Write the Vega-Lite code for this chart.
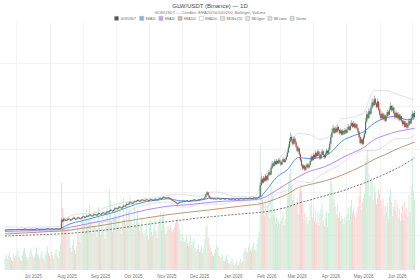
{
  "$schema": "https://vega.github.io/schema/vega-lite/v6.json",
  "width": 420,
  "height": 248,
  "autosize": {"type": "none"},
  "padding": {"top": 22, "left": 0, "right": 0, "bottom": 10},
  "background": "white",
  "title": {
    "text": "GLW/USDT (Binance) — 1D",
    "subtitle": "GLW/USDT — Candles: EMA20/50/100/200, Bollinger, Volume",
    "anchor": "middle",
    "frame": "group",
    "offset": 1,
    "fontSize": 6,
    "fontWeight": "normal",
    "color": "#444444",
    "subtitleFontSize": 4,
    "subtitleColor": "#777777",
    "subtitlePadding": 2,
    "font": "Liberation Sans",
    "subtitleFont": "Liberation Sans"
  },
  "datasets": {
    "candles": [
      {"d":"2025-06-21","o":5.52,"h":5.60,"l":5.49,"c":5.55,"v":12},
      {"d":"2025-06-22","o":5.55,"h":5.64,"l":5.53,"c":5.60,"v":15},
      {"d":"2025-06-23","o":5.60,"h":5.63,"l":5.53,"c":5.57,"v":11},
      {"d":"2025-06-24","o":5.57,"h":5.66,"l":5.55,"c":5.62,"v":14},
      {"d":"2025-06-25","o":5.62,"h":5.70,"l":5.60,"c":5.66,"v":18},
      {"d":"2025-06-26","o":5.66,"h":5.69,"l":5.58,"c":5.61,"v":13},
      {"d":"2025-06-27","o":5.61,"h":5.63,"l":5.54,"c":5.58,"v":10},
      {"d":"2025-06-28","o":5.58,"h":5.67,"l":5.56,"c":5.63,"v":9},
      {"d":"2025-06-29","o":5.63,"h":5.72,"l":5.61,"c":5.68,"v":16},
      {"d":"2025-06-30","o":5.68,"h":5.70,"l":5.60,"c":5.64,"v":12},
      {"d":"2025-07-01","o":5.64,"h":5.66,"l":5.56,"c":5.60,"v":14},
      {"d":"2025-07-02","o":5.60,"h":5.69,"l":5.58,"c":5.65,"v":17},
      {"d":"2025-07-03","o":5.65,"h":5.74,"l":5.63,"c":5.70,"v":20},
      {"d":"2025-07-04","o":5.70,"h":5.73,"l":5.64,"c":5.67,"v":13},
      {"d":"2025-07-05","o":5.67,"h":5.69,"l":5.59,"c":5.62,"v":11},
      {"d":"2025-07-06","o":5.62,"h":5.64,"l":5.55,"c":5.59,"v":9},
      {"d":"2025-07-07","o":5.59,"h":5.68,"l":5.57,"c":5.64,"v":15},
      {"d":"2025-07-08","o":5.64,"h":5.73,"l":5.62,"c":5.69,"v":19},
      {"d":"2025-07-09","o":5.69,"h":5.78,"l":5.67,"c":5.73,"v":22},
      {"d":"2025-07-10","o":5.73,"h":5.75,"l":5.65,"c":5.68,"v":16},
      {"d":"2025-07-11","o":5.68,"h":5.70,"l":5.60,"c":5.64,"v":13},
      {"d":"2025-07-12","o":5.64,"h":5.66,"l":5.56,"c":5.60,"v":10},
      {"d":"2025-07-13","o":5.60,"h":5.67,"l":5.57,"c":5.63,"v":12},
      {"d":"2025-07-14","o":5.63,"h":5.71,"l":5.61,"c":5.67,"v":18},
      {"d":"2025-07-15","o":5.67,"h":5.76,"l":5.65,"c":5.71,"v":21},
      {"d":"2025-07-16","o":5.71,"h":5.73,"l":5.63,"c":5.66,"v":15},
      {"d":"2025-07-17","o":5.66,"h":5.68,"l":5.58,"c":5.62,"v":12},
      {"d":"2025-07-18","o":5.62,"h":5.69,"l":5.60,"c":5.65,"v":14},
      {"d":"2025-07-19","o":5.65,"h":5.74,"l":5.63,"c":5.70,"v":17},
      {"d":"2025-07-20","o":5.70,"h":5.79,"l":5.68,"c":5.74,"v":23},
      {"d":"2025-07-21","o":5.74,"h":5.76,"l":5.66,"c":5.69,"v":16},
      {"d":"2025-07-22","o":5.69,"h":5.71,"l":5.61,"c":5.65,"v":13},
      {"d":"2025-07-23","o":5.65,"h":5.67,"l":5.57,"c":5.61,"v":11},
      {"d":"2025-07-24","o":5.61,"h":5.70,"l":5.59,"c":5.66,"v":15},
      {"d":"2025-07-25","o":5.66,"h":5.74,"l":5.64,"c":5.70,"v":19},
      {"d":"2025-07-26","o":5.70,"h":5.73,"l":5.64,"c":5.67,"v":12},
      {"d":"2025-07-27","o":5.67,"h":5.69,"l":5.59,"c":5.63,"v":10},
      {"d":"2025-07-28","o":5.63,"h":5.72,"l":5.61,"c":5.68,"v":16},
      {"d":"2025-07-29","o":5.68,"h":5.77,"l":5.66,"c":5.72,"v":20},
      {"d":"2025-07-30","o":5.72,"h":5.81,"l":5.70,"c":5.76,"v":24},
      {"d":"2025-07-31","o":5.76,"h":5.78,"l":5.68,"c":5.71,"v":17},
      {"d":"2025-08-01","o":5.71,"h":5.73,"l":5.63,"c":5.67,"v":14},
      {"d":"2025-08-02","o":5.67,"h":5.74,"l":5.65,"c":5.70,"v":12},
      {"d":"2025-08-03","o":5.70,"h":5.78,"l":5.68,"c":5.74,"v":18},
      {"d":"2025-08-04","o":5.74,"h":5.76,"l":5.66,"c":5.69,"v":15},
      {"d":"2025-08-05","o":5.69,"h":5.71,"l":5.62,"c":5.66,"v":11},
      {"d":"2025-08-06","o":5.66,"h":5.74,"l":5.64,"c":5.70,"v":16},
      {"d":"2025-08-07","o":5.70,"h":5.79,"l":5.68,"c":5.75,"v":21},
      {"d":"2025-08-08","o":5.75,"h":5.78,"l":5.69,"c":5.72,"v":14},
      {"d":"2025-08-09","o":5.72,"h":5.74,"l":5.65,"c":5.68,"v":12},
      {"d":"2025-08-10","o":5.68,"h":5.77,"l":5.66,"c":5.73,"v":19},
      {"d":"2025-08-11","o":5.73,"h":5.83,"l":5.71,"c":5.78,"v":26},
      {"d":"2025-08-12","o":5.78,"h":6.95,"l":5.76,"c":6.72,"v":87},
      {"d":"2025-08-13","o":6.72,"h":6.88,"l":6.48,"c":6.60,"v":62},
      {"d":"2025-08-14","o":6.60,"h":6.98,"l":6.55,"c":6.85,"v":55},
      {"d":"2025-08-15","o":6.85,"h":6.94,"l":6.70,"c":6.78,"v":41},
      {"d":"2025-08-16","o":6.78,"h":6.84,"l":6.58,"c":6.66,"v":38},
      {"d":"2025-08-17","o":6.66,"h":6.82,"l":6.60,"c":6.74,"v":30},
      {"d":"2025-08-18","o":6.74,"h":7.02,"l":6.70,"c":6.90,"v":48},
      {"d":"2025-08-19","o":6.90,"h":6.97,"l":6.75,"c":6.82,"v":35},
      {"d":"2025-08-20","o":6.82,"h":6.86,"l":6.62,"c":6.70,"v":22},
      {"d":"2025-08-21","o":6.70,"h":6.86,"l":6.66,"c":6.79,"v":18},
      {"d":"2025-08-22","o":6.79,"h":7.02,"l":6.75,"c":6.93,"v":25},
      {"d":"2025-08-23","o":6.93,"h":7.12,"l":6.88,"c":7.02,"v":31},
      {"d":"2025-08-24","o":7.02,"h":7.06,"l":6.82,"c":6.88,"v":20},
      {"d":"2025-08-25","o":6.88,"h":6.92,"l":6.72,"c":6.80,"v":16},
      {"d":"2025-08-26","o":6.80,"h":6.99,"l":6.76,"c":6.92,"v":24},
      {"d":"2025-08-27","o":6.92,"h":7.14,"l":6.88,"c":7.05,"v":44},
      {"d":"2025-08-28","o":7.05,"h":7.10,"l":6.90,"c":6.97,"v":36},
      {"d":"2025-08-29","o":6.97,"h":7.01,"l":6.80,"c":6.86,"v":28},
      {"d":"2025-08-30","o":6.86,"h":7.03,"l":6.82,"c":6.95,"v":40},
      {"d":"2025-08-31","o":6.95,"h":7.17,"l":6.91,"c":7.08,"v":52},
      {"d":"2025-09-01","o":7.08,"h":7.24,"l":7.02,"c":7.15,"v":58},
      {"d":"2025-09-02","o":7.15,"h":7.19,"l":6.95,"c":7.02,"v":47},
      {"d":"2025-09-03","o":7.02,"h":7.18,"l":6.97,"c":7.10,"v":39},
      {"d":"2025-09-04","o":7.10,"h":7.31,"l":7.06,"c":7.22,"v":61},
      {"d":"2025-09-05","o":7.22,"h":7.27,"l":7.08,"c":7.14,"v":44},
      {"d":"2025-09-06","o":7.14,"h":7.34,"l":7.10,"c":7.26,"v":50},
      {"d":"2025-09-07","o":7.26,"h":7.45,"l":7.21,"c":7.35,"v":66},
      {"d":"2025-09-08","o":7.35,"h":7.39,"l":7.17,"c":7.24,"v":52},
      {"d":"2025-09-09","o":7.24,"h":7.29,"l":7.10,"c":7.18,"v":37},
      {"d":"2025-09-10","o":7.18,"h":7.38,"l":7.14,"c":7.30,"v":45},
      {"d":"2025-09-11","o":7.30,"h":7.51,"l":7.26,"c":7.42,"v":59},
      {"d":"2025-09-12","o":7.42,"h":7.48,"l":7.29,"c":7.36,"v":42},
      {"d":"2025-09-13","o":7.36,"h":7.40,"l":7.21,"c":7.28,"v":33},
      {"d":"2025-09-14","o":7.28,"h":7.48,"l":7.24,"c":7.40,"v":41},
      {"d":"2025-09-15","o":7.40,"h":7.62,"l":7.36,"c":7.52,"v":63},
      {"d":"2025-09-16","o":7.52,"h":7.57,"l":7.38,"c":7.45,"v":48},
      {"d":"2025-09-17","o":7.45,"h":7.49,"l":7.30,"c":7.38,"v":35},
      {"d":"2025-09-18","o":7.38,"h":7.58,"l":7.34,"c":7.50,"v":46},
      {"d":"2025-09-19","o":7.50,"h":7.71,"l":7.46,"c":7.62,"v":57},
      {"d":"2025-09-20","o":7.62,"h":7.66,"l":7.48,"c":7.55,"v":40},
      {"d":"2025-09-21","o":7.55,"h":7.59,"l":7.40,"c":7.48,"v":31},
      {"d":"2025-09-22","o":7.48,"h":7.68,"l":7.44,"c":7.60,"v":43},
      {"d":"2025-09-23","o":7.60,"h":7.82,"l":7.56,"c":7.72,"v":62},
      {"d":"2025-09-24","o":7.72,"h":7.78,"l":7.58,"c":7.66,"v":45},
      {"d":"2025-09-25","o":7.66,"h":7.90,"l":7.62,"c":7.80,"v":81},
      {"d":"2025-09-26","o":7.80,"h":8.03,"l":7.75,"c":7.92,"v":70},
      {"d":"2025-09-27","o":7.92,"h":7.97,"l":7.77,"c":7.84,"v":49},
      {"d":"2025-09-28","o":7.84,"h":7.88,"l":7.68,"c":7.76,"v":38},
      {"d":"2025-09-29","o":7.76,"h":7.98,"l":7.72,"c":7.90,"v":53},
      {"d":"2025-09-30","o":7.90,"h":8.14,"l":7.86,"c":8.04,"v":64},
      {"d":"2025-10-01","o":8.04,"h":8.22,"l":7.98,"c":8.12,"v":55},
      {"d":"2025-10-02","o":8.12,"h":8.17,"l":7.93,"c":8.00,"v":44},
      {"d":"2025-10-03","o":8.00,"h":8.24,"l":7.95,"c":8.15,"v":50},
      {"d":"2025-10-04","o":8.15,"h":8.38,"l":8.10,"c":8.28,"v":67},
      {"d":"2025-10-05","o":8.28,"h":8.33,"l":8.13,"c":8.20,"v":42},
      {"d":"2025-10-06","o":8.20,"h":8.24,"l":8.02,"c":8.10,"v":36},
      {"d":"2025-10-07","o":8.10,"h":8.33,"l":8.06,"c":8.25,"v":48},
      {"d":"2025-10-08","o":8.25,"h":8.50,"l":8.21,"c":8.40,"v":72},
      {"d":"2025-10-09","o":8.40,"h":8.45,"l":8.25,"c":8.32,"v":51},
      {"d":"2025-10-10","o":8.32,"h":8.54,"l":8.28,"c":8.45,"v":45},
      {"d":"2025-10-11","o":8.45,"h":8.71,"l":8.41,"c":8.60,"v":68},
      {"d":"2025-10-12","o":8.60,"h":8.66,"l":8.45,"c":8.52,"v":47},
      {"d":"2025-10-13","o":8.52,"h":8.78,"l":8.48,"c":8.68,"v":58},
      {"d":"2025-10-14","o":8.68,"h":8.91,"l":8.63,"c":8.80,"v":74},
      {"d":"2025-10-15","o":8.80,"h":8.85,"l":8.65,"c":8.72,"v":50},
      {"d":"2025-10-16","o":8.72,"h":8.76,"l":8.54,"c":8.62,"v":41},
      {"d":"2025-10-17","o":8.62,"h":8.86,"l":8.58,"c":8.78,"v":46},
      {"d":"2025-10-18","o":8.78,"h":9.01,"l":8.73,"c":8.90,"v":63},
      {"d":"2025-10-19","o":8.90,"h":8.96,"l":8.77,"c":8.84,"v":44},
      {"d":"2025-10-20","o":8.84,"h":9.04,"l":8.80,"c":8.95,"v":49},
      {"d":"2025-10-21","o":8.95,"h":9.16,"l":8.90,"c":9.06,"v":61},
      {"d":"2025-10-22","o":9.06,"h":9.11,"l":8.91,"c":8.98,"v":47},
      {"d":"2025-10-23","o":8.98,"h":9.02,"l":8.82,"c":8.90,"v":39},
      {"d":"2025-10-24","o":8.90,"h":9.10,"l":8.86,"c":9.02,"v":45},
      {"d":"2025-10-25","o":9.02,"h":9.19,"l":8.97,"c":9.10,"v":52},
      {"d":"2025-10-26","o":9.10,"h":9.15,"l":8.97,"c":9.04,"v":37},
      {"d":"2025-10-27","o":9.04,"h":9.08,"l":8.89,"c":8.96,"v":33},
      {"d":"2025-10-28","o":8.96,"h":9.12,"l":8.92,"c":9.05,"v":40},
      {"d":"2025-10-29","o":9.05,"h":9.21,"l":9.00,"c":9.12,"v":48},
      {"d":"2025-10-30","o":9.12,"h":9.16,"l":8.99,"c":9.06,"v":35},
      {"d":"2025-10-31","o":9.06,"h":9.10,"l":8.91,"c":8.98,"v":31},
      {"d":"2025-11-01","o":8.98,"h":9.15,"l":8.94,"c":9.08,"v":42},
      {"d":"2025-11-02","o":9.08,"h":9.25,"l":9.03,"c":9.16,"v":50},
      {"d":"2025-11-03","o":9.16,"h":9.21,"l":9.03,"c":9.10,"v":38},
      {"d":"2025-11-04","o":9.10,"h":9.14,"l":8.95,"c":9.02,"v":34},
      {"d":"2025-11-05","o":9.02,"h":9.18,"l":8.98,"c":9.11,"v":41},
      {"d":"2025-11-06","o":9.11,"h":9.29,"l":9.06,"c":9.20,"v":53},
      {"d":"2025-11-07","o":9.20,"h":9.25,"l":9.07,"c":9.14,"v":39},
      {"d":"2025-11-08","o":9.14,"h":9.18,"l":8.99,"c":9.06,"v":32},
      {"d":"2025-11-09","o":9.06,"h":9.22,"l":9.02,"c":9.15,"v":44},
      {"d":"2025-11-10","o":9.15,"h":9.33,"l":9.10,"c":9.24,"v":51},
      {"d":"2025-11-11","o":9.24,"h":9.39,"l":9.19,"c":9.30,"v":58},
      {"d":"2025-11-12","o":9.30,"h":9.34,"l":9.15,"c":9.22,"v":40},
      {"d":"2025-11-13","o":9.22,"h":9.42,"l":9.18,"c":9.34,"v":55},
      {"d":"2025-11-14","o":9.34,"h":9.52,"l":9.29,"c":9.42,"v":58},
      {"d":"2025-11-15","o":9.42,"h":9.47,"l":9.28,"c":9.35,"v":43},
      {"d":"2025-11-16","o":9.35,"h":9.39,"l":9.19,"c":9.26,"v":36},
      {"d":"2025-11-17","o":9.26,"h":9.40,"l":9.22,"c":9.32,"v":39},
      {"d":"2025-11-18","o":9.32,"h":9.46,"l":9.28,"c":9.38,"v":44},
      {"d":"2025-11-19","o":9.38,"h":9.42,"l":9.21,"c":9.28,"v":41},
      {"d":"2025-11-20","o":9.28,"h":9.32,"l":9.11,"c":9.18,"v":45},
      {"d":"2025-11-21","o":9.18,"h":9.22,"l":9.03,"c":9.10,"v":42},
      {"d":"2025-11-22","o":9.10,"h":9.14,"l":8.95,"c":9.02,"v":38},
      {"d":"2025-11-23","o":9.02,"h":9.06,"l":8.87,"c":8.94,"v":40},
      {"d":"2025-11-24","o":8.94,"h":8.98,"l":8.79,"c":8.86,"v":43},
      {"d":"2025-11-25","o":8.86,"h":8.90,"l":8.70,"c":8.78,"v":47},
      {"d":"2025-11-26","o":8.78,"h":8.82,"l":8.62,"c":8.70,"v":50},
      {"d":"2025-11-27","o":8.70,"h":8.74,"l":8.52,"c":8.62,"v":52},
      {"d":"2025-11-28","o":8.62,"h":8.83,"l":8.58,"c":8.75,"v":46},
      {"d":"2025-11-29","o":8.75,"h":8.92,"l":8.70,"c":8.84,"v":40},
      {"d":"2025-11-30","o":8.84,"h":8.90,"l":8.74,"c":8.80,"v":29},
      {"d":"2025-12-01","o":8.80,"h":8.97,"l":8.76,"c":8.90,"v":36},
      {"d":"2025-12-02","o":8.90,"h":9.03,"l":8.85,"c":8.96,"v":33},
      {"d":"2025-12-03","o":8.96,"h":9.00,"l":8.82,"c":8.88,"v":28},
      {"d":"2025-12-04","o":8.88,"h":9.01,"l":8.84,"c":8.95,"v":30},
      {"d":"2025-12-05","o":8.95,"h":9.09,"l":8.91,"c":9.02,"v":35},
      {"d":"2025-12-06","o":9.02,"h":9.06,"l":8.88,"c":8.94,"v":27},
      {"d":"2025-12-07","o":8.94,"h":8.98,"l":8.82,"c":8.88,"v":24},
      {"d":"2025-12-08","o":8.88,"h":9.02,"l":8.84,"c":8.96,"v":29},
      {"d":"2025-12-09","o":8.96,"h":9.10,"l":8.92,"c":9.04,"v":34},
      {"d":"2025-12-10","o":9.04,"h":9.08,"l":8.93,"c":8.98,"v":25},
      {"d":"2025-12-11","o":8.98,"h":9.12,"l":8.94,"c":9.06,"v":28},
      {"d":"2025-12-12","o":9.06,"h":9.19,"l":9.02,"c":9.12,"v":32},
      {"d":"2025-12-13","o":9.12,"h":9.16,"l":9.00,"c":9.05,"v":22},
      {"d":"2025-12-14","o":9.05,"h":9.08,"l":8.93,"c":8.98,"v":19},
      {"d":"2025-12-15","o":8.98,"h":9.11,"l":8.95,"c":9.06,"v":21},
      {"d":"2025-12-16","o":9.06,"h":9.20,"l":9.02,"c":9.14,"v":26},
      {"d":"2025-12-17","o":9.14,"h":9.17,"l":9.03,"c":9.08,"v":18},
      {"d":"2025-12-18","o":9.08,"h":9.22,"l":9.05,"c":9.16,"v":20},
      {"d":"2025-12-19","o":9.16,"h":9.29,"l":9.12,"c":9.22,"v":24},
      {"d":"2025-12-20","o":9.22,"h":9.25,"l":9.10,"c":9.15,"v":17},
      {"d":"2025-12-21","o":9.15,"h":9.30,"l":9.12,"c":9.24,"v":22},
      {"d":"2025-12-22","o":9.24,"h":9.50,"l":9.20,"c":9.40,"v":31},
      {"d":"2025-12-23","o":9.40,"h":9.85,"l":9.36,"c":9.72,"v":42},
      {"d":"2025-12-24","o":9.72,"h":10.12,"l":9.66,"c":9.95,"v":45},
      {"d":"2025-12-25","o":9.95,"h":10.00,"l":9.52,"c":9.60,"v":33},
      {"d":"2025-12-26","o":9.60,"h":9.64,"l":9.30,"c":9.38,"v":26},
      {"d":"2025-12-27","o":9.38,"h":9.42,"l":9.19,"c":9.25,"v":22},
      {"d":"2025-12-28","o":9.25,"h":9.28,"l":9.12,"c":9.18,"v":18},
      {"d":"2025-12-29","o":9.18,"h":9.29,"l":9.14,"c":9.24,"v":15},
      {"d":"2025-12-30","o":9.24,"h":9.27,"l":9.11,"c":9.16,"v":14},
      {"d":"2025-12-31","o":9.16,"h":9.27,"l":9.13,"c":9.22,"v":17},
      {"d":"2026-01-01","o":9.22,"h":9.25,"l":9.11,"c":9.15,"v":21},
      {"d":"2026-01-02","o":9.15,"h":9.24,"l":9.12,"c":9.20,"v":26},
      {"d":"2026-01-03","o":9.20,"h":9.31,"l":9.17,"c":9.26,"v":23},
      {"d":"2026-01-04","o":9.26,"h":9.29,"l":9.14,"c":9.18,"v":14},
      {"d":"2026-01-05","o":9.18,"h":9.21,"l":9.08,"c":9.12,"v":11},
      {"d":"2026-01-06","o":9.12,"h":9.23,"l":9.09,"c":9.19,"v":13},
      {"d":"2026-01-07","o":9.19,"h":9.30,"l":9.16,"c":9.25,"v":16},
      {"d":"2026-01-08","o":9.25,"h":9.28,"l":9.16,"c":9.20,"v":9},
      {"d":"2026-01-09","o":9.20,"h":9.23,"l":9.10,"c":9.14,"v":8},
      {"d":"2026-01-10","o":9.14,"h":9.25,"l":9.11,"c":9.21,"v":12},
      {"d":"2026-01-11","o":9.21,"h":9.32,"l":9.18,"c":9.27,"v":15},
      {"d":"2026-01-12","o":9.27,"h":9.30,"l":9.18,"c":9.22,"v":10},
      {"d":"2026-01-13","o":9.22,"h":9.25,"l":9.12,"c":9.16,"v":7},
      {"d":"2026-01-14","o":9.16,"h":9.19,"l":9.06,"c":9.10,"v":6},
      {"d":"2026-01-15","o":9.10,"h":9.21,"l":9.07,"c":9.17,"v":9},
      {"d":"2026-01-16","o":9.17,"h":9.28,"l":9.14,"c":9.24,"v":12},
      {"d":"2026-01-17","o":9.24,"h":9.27,"l":9.15,"c":9.19,"v":7},
      {"d":"2026-01-18","o":9.19,"h":9.22,"l":9.09,"c":9.13,"v":5},
      {"d":"2026-01-19","o":9.13,"h":9.24,"l":9.10,"c":9.20,"v":6},
      {"d":"2026-01-20","o":9.20,"h":9.30,"l":9.17,"c":9.26,"v":9},
      {"d":"2026-01-21","o":9.26,"h":9.29,"l":9.17,"c":9.21,"v":4},
      {"d":"2026-01-22","o":9.21,"h":9.24,"l":9.11,"c":9.15,"v":5},
      {"d":"2026-01-23","o":9.15,"h":9.26,"l":9.12,"c":9.22,"v":8},
      {"d":"2026-01-24","o":9.22,"h":9.33,"l":9.19,"c":9.28,"v":11},
      {"d":"2026-01-25","o":9.28,"h":9.31,"l":9.19,"c":9.23,"v":7},
      {"d":"2026-01-26","o":9.23,"h":9.26,"l":9.13,"c":9.17,"v":9},
      {"d":"2026-01-27","o":9.17,"h":9.28,"l":9.14,"c":9.24,"v":18},
      {"d":"2026-01-28","o":9.24,"h":9.35,"l":9.21,"c":9.30,"v":22},
      {"d":"2026-01-29","o":9.30,"h":9.33,"l":9.21,"c":9.25,"v":19},
      {"d":"2026-01-30","o":9.25,"h":9.28,"l":9.15,"c":9.19,"v":17},
      {"d":"2026-01-31","o":9.19,"h":9.30,"l":9.16,"c":9.26,"v":23},
      {"d":"2026-02-01","o":9.26,"h":9.37,"l":9.23,"c":9.32,"v":25},
      {"d":"2026-02-02","o":9.32,"h":9.35,"l":9.23,"c":9.27,"v":20},
      {"d":"2026-02-03","o":9.27,"h":9.30,"l":9.17,"c":9.21,"v":18},
      {"d":"2026-02-04","o":9.21,"h":9.32,"l":9.18,"c":9.28,"v":24},
      {"d":"2026-02-05","o":9.28,"h":9.40,"l":9.25,"c":9.35,"v":27},
      {"d":"2026-02-06","o":9.35,"h":9.38,"l":9.26,"c":9.30,"v":21},
      {"d":"2026-02-07","o":9.30,"h":9.33,"l":9.20,"c":9.24,"v":19},
      {"d":"2026-02-08","o":9.24,"h":9.36,"l":9.21,"c":9.31,"v":26},
      {"d":"2026-02-09","o":9.31,"h":9.44,"l":9.28,"c":9.38,"v":31},
      {"d":"2026-02-10","o":9.38,"h":9.52,"l":9.34,"c":9.45,"v":38},
      {"d":"2026-02-11","o":9.45,"h":11.10,"l":9.42,"c":10.80,"v":125},
      {"d":"2026-02-12","o":10.80,"h":11.80,"l":10.70,"c":11.45,"v":98},
      {"d":"2026-02-13","o":11.45,"h":11.65,"l":10.95,"c":11.10,"v":72},
      {"d":"2026-02-14","o":11.10,"h":11.85,"l":11.00,"c":11.60,"v":66},
      {"d":"2026-02-15","o":11.60,"h":11.75,"l":11.15,"c":11.30,"v":54},
      {"d":"2026-02-16","o":11.30,"h":12.10,"l":11.20,"c":11.85,"v":70},
      {"d":"2026-02-17","o":11.85,"h":11.95,"l":11.25,"c":11.40,"v":58},
      {"d":"2026-02-18","o":11.40,"h":12.20,"l":11.35,"c":11.95,"v":63},
      {"d":"2026-02-19","o":11.95,"h":12.55,"l":11.85,"c":12.30,"v":75},
      {"d":"2026-02-20","o":12.30,"h":12.45,"l":11.90,"c":12.05,"v":52},
      {"d":"2026-02-21","o":12.05,"h":13.05,"l":12.00,"c":12.80,"v":84},
      {"d":"2026-02-22","o":12.80,"h":13.60,"l":12.70,"c":13.30,"v":79},
      {"d":"2026-02-23","o":13.30,"h":13.45,"l":12.90,"c":13.05,"v":55},
      {"d":"2026-02-24","o":13.05,"h":13.80,"l":12.95,"c":13.55,"v":61},
      {"d":"2026-02-25","o":13.55,"h":13.65,"l":13.10,"c":13.25,"v":47},
      {"d":"2026-02-26","o":13.25,"h":13.85,"l":13.15,"c":13.60,"v":53},
      {"d":"2026-02-27","o":13.60,"h":13.70,"l":13.20,"c":13.35,"v":44},
      {"d":"2026-02-28","o":13.35,"h":13.95,"l":13.25,"c":13.70,"v":50},
      {"d":"2026-03-01","o":13.70,"h":13.85,"l":13.30,"c":13.45,"v":46},
      {"d":"2026-03-02","o":13.45,"h":13.55,"l":13.05,"c":13.20,"v":49},
      {"d":"2026-03-03","o":13.20,"h":13.75,"l":13.10,"c":13.55,"v":52},
      {"d":"2026-03-04","o":13.55,"h":14.05,"l":13.45,"c":13.80,"v":58},
      {"d":"2026-03-05","o":13.80,"h":13.90,"l":13.35,"c":13.50,"v":45},
      {"d":"2026-03-06","o":13.50,"h":13.95,"l":13.40,"c":13.75,"v":51},
      {"d":"2026-03-07","o":13.75,"h":14.35,"l":13.65,"c":14.10,"v":62},
      {"d":"2026-03-08","o":14.10,"h":14.90,"l":14.00,"c":14.60,"v":74},
      {"d":"2026-03-09","o":14.60,"h":15.55,"l":14.50,"c":15.20,"v":88},
      {"d":"2026-03-10","o":15.20,"h":16.30,"l":15.10,"c":15.90,"v":96},
      {"d":"2026-03-11","o":15.90,"h":16.90,"l":15.75,"c":16.40,"v":102},
      {"d":"2026-03-12","o":16.40,"h":16.60,"l":15.80,"c":16.00,"v":85},
      {"d":"2026-03-13","o":16.00,"h":16.15,"l":15.40,"c":15.60,"v":70},
      {"d":"2026-03-14","o":15.60,"h":16.50,"l":15.50,"c":16.20,"v":76},
      {"d":"2026-03-15","o":16.20,"h":16.35,"l":15.60,"c":15.80,"v":64},
      {"d":"2026-03-16","o":15.80,"h":15.95,"l":15.10,"c":15.30,"v":68},
      {"d":"2026-03-17","o":15.30,"h":15.45,"l":14.60,"c":14.80,"v":72},
      {"d":"2026-03-18","o":14.80,"h":15.35,"l":14.65,"c":15.05,"v":55},
      {"d":"2026-03-19","o":15.05,"h":15.15,"l":14.25,"c":14.40,"v":77},
      {"d":"2026-03-20","o":14.40,"h":14.55,"l":13.55,"c":13.70,"v":82},
      {"d":"2026-03-21","o":13.70,"h":13.85,"l":12.95,"c":13.10,"v":79},
      {"d":"2026-03-22","o":13.10,"h":13.25,"l":12.55,"c":12.75,"v":66},
      {"d":"2026-03-23","o":12.75,"h":13.25,"l":12.60,"c":13.05,"v":51},
      {"d":"2026-03-24","o":13.05,"h":13.15,"l":12.45,"c":12.60,"v":57},
      {"d":"2026-03-25","o":12.60,"h":13.10,"l":12.50,"c":12.90,"v":48},
      {"d":"2026-03-26","o":12.90,"h":13.40,"l":12.80,"c":13.20,"v":53},
      {"d":"2026-03-27","o":13.20,"h":13.30,"l":12.70,"c":12.85,"v":46},
      {"d":"2026-03-28","o":12.85,"h":13.35,"l":12.75,"c":13.15,"v":50},
      {"d":"2026-03-29","o":13.15,"h":13.85,"l":13.05,"c":13.60,"v":64},
      {"d":"2026-03-30","o":13.60,"h":14.35,"l":13.50,"c":14.10,"v":71},
      {"d":"2026-03-31","o":14.10,"h":14.20,"l":13.60,"c":13.75,"v":52},
      {"d":"2026-04-01","o":13.75,"h":14.55,"l":13.65,"c":14.30,"v":63},
      {"d":"2026-04-02","o":14.30,"h":14.45,"l":13.85,"c":14.00,"v":49},
      {"d":"2026-04-03","o":14.00,"h":14.80,"l":13.90,"c":14.55,"v":60},
      {"d":"2026-04-04","o":14.55,"h":14.65,"l":14.05,"c":14.20,"v":47},
      {"d":"2026-04-05","o":14.20,"h":14.95,"l":14.10,"c":14.70,"v":58},
      {"d":"2026-04-06","o":14.70,"h":14.80,"l":14.20,"c":14.35,"v":45},
      {"d":"2026-04-07","o":14.35,"h":14.45,"l":13.75,"c":13.90,"v":56},
      {"d":"2026-04-08","o":13.90,"h":14.65,"l":13.80,"c":14.40,"v":61},
      {"d":"2026-04-09","o":14.40,"h":15.00,"l":14.30,"c":14.75,"v":67},
      {"d":"2026-04-10","o":14.75,"h":14.85,"l":14.15,"c":14.30,"v":50},
      {"d":"2026-04-11","o":14.30,"h":14.40,"l":13.85,"c":14.00,"v":44},
      {"d":"2026-04-12","o":14.00,"h":14.70,"l":13.90,"c":14.45,"v":52},
      {"d":"2026-04-13","o":14.45,"h":15.05,"l":14.35,"c":14.80,"v":59},
      {"d":"2026-04-14","o":14.80,"h":14.90,"l":14.35,"c":14.50,"v":43},
      {"d":"2026-04-15","o":14.50,"h":15.20,"l":14.40,"c":14.95,"v":57},
      {"d":"2026-04-16","o":14.95,"h":15.90,"l":14.85,"c":15.60,"v":78},
      {"d":"2026-04-17","o":15.60,"h":16.75,"l":15.50,"c":16.40,"v":92},
      {"d":"2026-04-18","o":16.40,"h":17.35,"l":16.25,"c":16.95,"v":86},
      {"d":"2026-04-19","o":16.95,"h":17.80,"l":16.80,"c":17.40,"v":80},
      {"d":"2026-04-20","o":17.40,"h":17.55,"l":16.70,"c":16.90,"v":71},
      {"d":"2026-04-21","o":16.90,"h":17.65,"l":16.80,"c":17.35,"v":63},
      {"d":"2026-04-22","o":17.35,"h":17.45,"l":16.85,"c":17.00,"v":55},
      {"d":"2026-04-23","o":17.00,"h":17.85,"l":16.90,"c":17.55,"v":66},
      {"d":"2026-04-24","o":17.55,"h":17.65,"l":17.05,"c":17.20,"v":52},
      {"d":"2026-04-25","o":17.20,"h":17.30,"l":16.65,"c":16.85,"v":58},
      {"d":"2026-04-26","o":16.85,"h":17.40,"l":16.75,"c":17.15,"v":49},
      {"d":"2026-04-27","o":17.15,"h":17.25,"l":16.55,"c":16.70,"v":54},
      {"d":"2026-04-28","o":16.70,"h":17.35,"l":16.60,"c":17.10,"v":51},
      {"d":"2026-04-29","o":17.10,"h":17.20,"l":16.65,"c":16.80,"v":46},
      {"d":"2026-04-30","o":16.80,"h":17.45,"l":16.70,"c":17.20,"v":53},
      {"d":"2026-05-01","o":17.20,"h":17.30,"l":16.75,"c":16.90,"v":48},
      {"d":"2026-05-02","o":16.90,"h":17.55,"l":16.80,"c":17.30,"v":55},
      {"d":"2026-05-03","o":17.30,"h":17.90,"l":17.20,"c":17.60,"v":62},
      {"d":"2026-05-04","o":17.60,"h":17.70,"l":17.10,"c":17.25,"v":50},
      {"d":"2026-05-05","o":17.25,"h":18.00,"l":17.15,"c":17.70,"v":64},
      {"d":"2026-05-06","o":17.70,"h":18.35,"l":17.60,"c":18.00,"v":70},
      {"d":"2026-05-07","o":18.00,"h":18.10,"l":17.45,"c":17.60,"v":57},
      {"d":"2026-05-08","o":17.60,"h":18.25,"l":17.50,"c":17.95,"v":61},
      {"d":"2026-05-09","o":17.95,"h":18.05,"l":17.35,"c":17.50,"v":55},
      {"d":"2026-05-10","o":17.50,"h":18.10,"l":17.40,"c":17.85,"v":52},
      {"d":"2026-05-11","o":17.85,"h":17.95,"l":17.25,"c":17.40,"v":58},
      {"d":"2026-05-12","o":17.40,"h":17.50,"l":16.85,"c":17.00,"v":63},
      {"d":"2026-05-13","o":17.00,"h":17.10,"l":16.25,"c":16.40,"v":74},
      {"d":"2026-05-14","o":16.40,"h":16.55,"l":15.55,"c":15.70,"v":86},
      {"d":"2026-05-15","o":15.70,"h":16.35,"l":15.60,"c":16.10,"v":60},
      {"d":"2026-05-16","o":16.10,"h":16.20,"l":15.45,"c":15.60,"v":68},
      {"d":"2026-05-17","o":15.60,"h":16.60,"l":15.50,"c":16.30,"v":72},
      {"d":"2026-05-18","o":16.30,"h":17.10,"l":16.20,"c":16.80,"v":77},
      {"d":"2026-05-19","o":16.80,"h":18.60,"l":16.70,"c":18.20,"v":108},
      {"d":"2026-05-20","o":18.20,"h":19.45,"l":18.05,"c":19.00,"v":115},
      {"d":"2026-05-21","o":19.00,"h":19.20,"l":18.40,"c":18.60,"v":120},
      {"d":"2026-05-22","o":18.60,"h":19.75,"l":18.50,"c":19.40,"v":96},
      {"d":"2026-05-23","o":19.40,"h":19.60,"l":18.90,"c":19.10,"v":74},
      {"d":"2026-05-24","o":19.10,"h":20.15,"l":19.00,"c":19.80,"v":88},
      {"d":"2026-05-25","o":19.80,"h":20.90,"l":19.70,"c":20.40,"v":93},
      {"d":"2026-05-26","o":20.40,"h":20.60,"l":19.90,"c":20.10,"v":70},
      {"d":"2026-05-27","o":20.10,"h":21.20,"l":20.00,"c":20.80,"v":85},
      {"d":"2026-05-28","o":20.80,"h":20.95,"l":20.10,"c":20.30,"v":78},
      {"d":"2026-05-29","o":20.30,"h":20.45,"l":19.70,"c":19.90,"v":66},
      {"d":"2026-05-30","o":19.90,"h":20.85,"l":19.80,"c":20.50,"v":72},
      {"d":"2026-05-31","o":20.50,"h":20.60,"l":19.40,"c":19.60,"v":81},
      {"d":"2026-06-01","o":19.60,"h":19.75,"l":18.80,"c":19.00,"v":76},
      {"d":"2026-06-02","o":19.00,"h":19.15,"l":18.40,"c":18.60,"v":69},
      {"d":"2026-06-03","o":18.60,"h":19.40,"l":18.50,"c":19.10,"v":62},
      {"d":"2026-06-04","o":19.10,"h":19.20,"l":18.30,"c":18.50,"v":71},
      {"d":"2026-06-05","o":18.50,"h":19.15,"l":18.40,"c":18.90,"v":55},
      {"d":"2026-06-06","o":18.90,"h":19.00,"l":18.10,"c":18.30,"v":64},
      {"d":"2026-06-07","o":18.30,"h":19.05,"l":18.20,"c":18.80,"v":58},
      {"d":"2026-06-08","o":18.80,"h":19.60,"l":18.70,"c":19.30,"v":67},
      {"d":"2026-06-09","o":19.30,"h":19.45,"l":18.85,"c":19.00,"v":51},
      {"d":"2026-06-10","o":19.00,"h":19.95,"l":18.90,"c":19.60,"v":73},
      {"d":"2026-06-11","o":19.60,"h":20.40,"l":19.50,"c":20.00,"v":80},
      {"d":"2026-06-12","o":20.00,"h":20.10,"l":19.30,"c":19.50,"v":68},
      {"d":"2026-06-13","o":19.50,"h":20.10,"l":19.40,"c":19.80,"v":54},
      {"d":"2026-06-14","o":19.80,"h":19.90,"l":19.00,"c":19.20,"v":63},
      {"d":"2026-06-15","o":19.20,"h":19.30,"l":18.50,"c":18.70,"v":70},
      {"d":"2026-06-16","o":18.70,"h":19.50,"l":18.60,"c":19.20,"v":59},
      {"d":"2026-06-17","o":19.20,"h":19.30,"l":18.40,"c":18.60,"v":66},
      {"d":"2026-06-18","o":18.60,"h":19.30,"l":18.50,"c":19.00,"v":52},
      {"d":"2026-06-19","o":19.00,"h":19.10,"l":18.20,"c":18.40,"v":61},
      {"d":"2026-06-20","o":18.40,"h":19.05,"l":18.30,"c":18.80,"v":49},
      {"d":"2026-06-21","o":18.80,"h":18.90,"l":18.10,"c":18.30,"v":57},
      {"d":"2026-06-22","o":18.30,"h":18.40,"l":17.70,"c":17.90,"v":64},
      {"d":"2026-06-23","o":17.90,"h":18.45,"l":17.80,"c":18.20,"v":50},
      {"d":"2026-06-24","o":18.20,"h":18.30,"l":17.40,"c":17.60,"v":68},
      {"d":"2026-06-25","o":17.60,"h":18.25,"l":17.50,"c":18.00,"v":56},
      {"d":"2026-06-26","o":18.00,"h":18.10,"l":17.30,"c":17.50,"v":62},
      {"d":"2026-06-27","o":17.50,"h":18.05,"l":17.40,"c":17.80,"v":53},
      {"d":"2026-06-28","o":17.80,"h":18.60,"l":17.70,"c":18.30,"v":75},
      {"d":"2026-06-29","o":18.30,"h":18.45,"l":17.85,"c":18.00,"v":58},
      {"d":"2026-06-30","o":18.00,"h":18.90,"l":17.90,"c":18.60,"v":84},
      {"d":"2026-07-01","o":18.60,"h":19.45,"l":18.50,"c":19.10,"v":112},
      {"d":"2026-07-02","o":19.10,"h":19.25,"l":18.50,"c":18.70,"v":79},
      {"d":"2026-07-03","o":18.70,"h":19.50,"l":18.60,"c":19.20,"v":70}
    ],
    "indicators": [
      {"d":"2025-06-21","e20":5.58,"e50":5.40,"e100":5.12,"e200":4.88,"bu":5.95,"bl":5.21},
      {"d":"2025-07-01","e20":5.62,"e50":5.45,"e100":5.18,"e200":4.93,"bu":5.92,"bl":5.32},
      {"d":"2025-07-11","e20":5.65,"e50":5.50,"e100":5.25,"e200":4.98,"bu":5.90,"bl":5.40},
      {"d":"2025-07-21","e20":5.67,"e50":5.54,"e100":5.32,"e200":5.03,"bu":5.92,"bl":5.42},
      {"d":"2025-07-31","e20":5.69,"e50":5.58,"e100":5.40,"e200":5.08,"bu":5.95,"bl":5.43},
      {"d":"2025-08-10","e20":5.70,"e50":5.62,"e100":5.46,"e200":5.13,"bu":5.98,"bl":5.42},
      {"d":"2025-08-12","e20":5.80,"e50":5.66,"e100":5.48,"e200":5.14,"bu":6.30,"bl":5.35},
      {"d":"2025-08-20","e20":6.30,"e50":5.90,"e100":5.58,"e200":5.20,"bu":7.20,"bl":5.50},
      {"d":"2025-08-30","e20":6.62,"e50":6.15,"e100":5.76,"e200":5.30,"bu":7.45,"bl":5.79},
      {"d":"2025-09-09","e20":6.95,"e50":6.40,"e100":5.95,"e200":5.42,"bu":7.45,"bl":6.45},
      {"d":"2025-09-19","e20":7.30,"e50":6.65,"e100":6.14,"e200":5.55,"bu":8.10,"bl":6.50},
      {"d":"2025-09-29","e20":7.62,"e50":6.95,"e100":6.35,"e200":5.70,"bu":8.50,"bl":6.74},
      {"d":"2025-10-09","e20":8.08,"e50":7.30,"e100":6.58,"e200":5.88,"bu":8.80,"bl":7.36},
      {"d":"2025-10-19","e20":8.55,"e50":7.62,"e100":6.78,"e200":6.05,"bu":8.95,"bl":8.15},
      {"d":"2025-10-29","e20":8.88,"e50":7.92,"e100":6.98,"e200":6.22,"bu":9.25,"bl":8.51},
      {"d":"2025-11-08","e20":9.05,"e50":8.15,"e100":7.18,"e200":6.40,"bu":9.35,"bl":8.75},
      {"d":"2025-11-18","e20":9.22,"e50":8.35,"e100":7.36,"e200":6.55,"bu":9.60,"bl":8.84},
      {"d":"2025-11-28","e20":9.00,"e50":8.45,"e100":7.52,"e200":6.70,"bu":9.75,"bl":8.25},
      {"d":"2025-12-08","e20":8.93,"e50":8.55,"e100":7.66,"e200":6.85,"bu":9.60,"bl":8.26},
      {"d":"2025-12-18","e20":9.05,"e50":8.68,"e100":7.80,"e200":7.00,"bu":9.50,"bl":8.60},
      {"d":"2025-12-28","e20":9.30,"e50":8.82,"e100":7.95,"e200":7.12,"bu":10.00,"bl":8.60},
      {"d":"2026-01-07","e20":9.25,"e50":8.92,"e100":8.10,"e200":7.25,"bu":9.90,"bl":8.60},
      {"d":"2026-01-17","e20":9.20,"e50":8.98,"e100":8.25,"e200":7.37,"bu":9.50,"bl":8.90},
      {"d":"2026-01-27","e20":9.22,"e50":9.05,"e100":8.40,"e200":7.48,"bu":9.45,"bl":8.99},
      {"d":"2026-02-06","e20":9.28,"e50":9.12,"e100":8.55,"e200":7.58,"bu":9.48,"bl":9.08},
      {"d":"2026-02-11","e20":9.42,"e50":9.20,"e100":8.62,"e200":7.63,"bu":10.60,"bl":8.60},
      {"d":"2026-02-16","e20":10.10,"e50":9.45,"e100":8.78,"e200":7.70,"bu":12.00,"bl":8.20},
      {"d":"2026-02-26","e20":11.70,"e50":10.20,"e100":9.22,"e200":7.95,"bu":13.60,"bl":9.80},
      {"d":"2026-03-08","e20":12.60,"e50":11.00,"e100":9.75,"e200":8.25,"bu":15.00,"bl":10.20},
      {"d":"2026-03-18","e20":14.00,"e50":11.75,"e100":10.50,"e200":8.70,"bu":16.80,"bl":11.20},
      {"d":"2026-03-28","e20":13.90,"e50":12.40,"e100":10.85,"e200":9.05,"bu":16.70,"bl":11.10},
      {"d":"2026-04-07","e20":14.00,"e50":12.75,"e100":11.15,"e200":9.40,"bu":16.10,"bl":11.90},
      {"d":"2026-04-17","e20":14.60,"e50":13.25,"e100":11.50,"e200":9.75,"bu":16.60,"bl":12.60},
      {"d":"2026-04-27","e20":15.90,"e50":13.95,"e100":11.95,"e200":10.10,"bu":18.50,"bl":13.30},
      {"d":"2026-05-07","e20":16.50,"e50":14.55,"e100":12.50,"e200":10.55,"bu":18.70,"bl":14.30},
      {"d":"2026-05-17","e20":17.00,"e50":15.15,"e100":13.10,"e200":11.00,"bu":19.20,"bl":14.80},
      {"d":"2026-05-27","e20":18.00,"e50":16.10,"e100":13.80,"e200":11.55,"bu":21.80,"bl":14.80},
      {"d":"2026-06-06","e20":18.60,"e50":16.60,"e100":14.35,"e200":12.10,"bu":21.80,"bl":15.40},
      {"d":"2026-06-16","e20":18.80,"e50":17.00,"e100":14.95,"e200":12.70,"bu":21.40,"bl":16.20},
      {"d":"2026-06-26","e20":18.40,"e50":17.25,"e100":15.45,"e200":13.40,"bu":21.00,"bl":16.20},
      {"d":"2026-07-03","e20":18.50,"e50":17.40,"e100":15.80,"e200":13.95,"bu":20.70,"bl":16.60}
    ],
    "series": [
      {"s":"GLW/USDT"},{"s":"EMA20"},{"s":"EMA50"},{"s":"EMA100"},{"s":"EMA200"},
      {"s":"BB Mid (20)"},{"s":"BB Upper"},{"s":"BB Lower"},{"s":"Volume"}
    ]
  },
  "encoding": {
    "x": {
      "field": "d",
      "type": "temporal",
      "scale": {
        "type": "utc",
        "domain": [
          {"year": 2025, "month": 6, "date": 21, "utc": true},
          {"year": 2026, "month": 7, "date": 3, "hours": 12, "utc": true}
        ]
      },
      "axis": {
        "title": null,
        "values": [
          {"year": 2025, "month": 6, "date": 1, "utc": true},
          {"year": 2025, "month": 7, "date": 1, "utc": true},
          {"year": 2025, "month": 8, "date": 1, "utc": true},
          {"year": 2025, "month": 9, "date": 1, "utc": true},
          {"year": 2025, "month": 10, "date": 1, "utc": true},
          {"year": 2025, "month": 11, "date": 1, "utc": true},
          {"year": 2025, "month": 12, "date": 1, "utc": true},
          {"year": 2026, "month": 1, "date": 1, "utc": true},
          {"year": 2026, "month": 2, "date": 1, "utc": true},
          {"year": 2026, "month": 3, "date": 1, "utc": true},
          {"year": 2026, "month": 4, "date": 1, "utc": true},
          {"year": 2026, "month": 5, "date": 1, "utc": true},
          {"year": 2026, "month": 6, "date": 1, "utc": true},
          {"year": 2026, "month": 7, "date": 1, "utc": true}
        ],
        "labelExpr": "utcyear(datum.value) == 2026 && utcmonth(datum.value) == 6 ? '' : utcFormat(datum.value, '%b %Y')",
        "labelOffset": 17,
        "labelPadding": 3,
        "labelFontSize": 4.5,
        "labelColor": "#777777",
        "labelFont": "Liberation Sans",
        "labelFlush": false,
        "labelOverlap": false,
        "labelBound": false,
        "domain": false,
        "ticks": false,
        "grid": true,
        "gridColor": "#eeeeee",
        "gridWidth": 0.7
      }
    }
  },
  "layer": [
    {
      "data": {"name": "candles"},
      "mark": {"type": "bar", "width": 1},
      "encoding": {
        "y": {"field": "v", "type": "quantitative", "scale": {"domain": [0, 248]}, "axis": null},
        "color": {
          "condition": {"test": "datum.c >= datum.o", "value": "#cbefd9"},
          "value": "#f9d2d1"
        }
      }
    },
    {
      "layer": [
        {
          "data": {"name": "indicators"},
          "mark": {"type": "line", "color": "#d4d4d4", "strokeWidth": 0.7, "interpolate": "monotone"},
          "encoding": {
            "y": {
              "field": "bu",
              "type": "quantitative",
              "scale": {"domain": [0.93, 29.77], "nice": false, "zero": false},
              "axis": {
                "title": null,
                "values": [5, 10, 15, 20, 25],
                "labels": false,
                "ticks": false,
                "domain": false,
                "grid": true,
                "gridColor": "#eeeeee",
                "gridWidth": 0.7
              }
            }
          }
        },
        {
          "data": {"name": "indicators"},
          "mark": {"type": "line", "color": "#d4d4d4", "strokeWidth": 0.7, "interpolate": "monotone"},
          "encoding": {"y": {"field": "bl", "type": "quantitative"}}
        },
        {
          "data": {"name": "indicators"},
          "mark": {"type": "line", "color": "#555555", "strokeWidth": 0.8, "strokeDash": [2, 1.5], "interpolate": "monotone"},
          "encoding": {"y": {"field": "e200", "type": "quantitative"}}
        },
        {
          "data": {"name": "indicators"},
          "mark": {"type": "line", "color": "#bb8a66", "strokeWidth": 0.9, "interpolate": "monotone"},
          "encoding": {"y": {"field": "e100", "type": "quantitative"}}
        },
        {
          "data": {"name": "indicators"},
          "mark": {"type": "line", "color": "#a97cf6", "strokeWidth": 0.9, "interpolate": "monotone"},
          "encoding": {"y": {"field": "e50", "type": "quantitative"}}
        },
        {
          "data": {"name": "indicators"},
          "mark": {"type": "line", "color": "#4b95f2", "strokeWidth": 1, "interpolate": "monotone"},
          "encoding": {"y": {"field": "e20", "type": "quantitative"}}
        },
        {
          "data": {"name": "candles"},
          "mark": {"type": "rule", "strokeWidth": 0.5},
          "encoding": {
            "y": {"field": "l", "type": "quantitative"},
            "y2": {"field": "h"},
            "color": {
              "condition": {"test": "datum.c >= datum.o", "value": "#4a7a62"},
              "value": "#9c4a43"
            }
          }
        },
        {
          "data": {"name": "candles"},
          "mark": {"type": "bar", "width": 1.1},
          "encoding": {
            "y": {"field": "o", "type": "quantitative"},
            "y2": {"field": "c"},
            "color": {
              "condition": {"test": "datum.c >= datum.o", "value": "#4a7a62"},
              "value": "#9c4a43"
            }
          }
        },
        {
          "data": {"name": "series"},
          "transform": [{"filter": "false"}],
          "mark": {"type": "square"},
          "encoding": {
            "fill": {
              "field": "s",
              "type": "nominal",
              "scale": {
                "domain": ["GLW/USDT", "EMA20", "EMA50", "EMA100", "EMA200", "BB Mid (20)", "BB Upper", "BB Lower", "Volume"],
                "range": ["#555555", "#7fb5f6", "#c4a6f7", "#d9b89c", "#ffffff", "#e2e2e2", "#e2e2e2", "#e2e2e2", "#c4ecd3"]
              },
              "legend": {
                "title": null,
                "orient": "none",
                "legendX": 114,
                "legendY": -6.5,
                "direction": "horizontal",
                "columns": 9,
                "symbolType": "square",
                "symbolSize": 16,
                "symbolOpacity": 1,
                "symbolStrokeColor": "#999999",
                "symbolStrokeWidth": 0.4,
                "labelFontSize": 3,
                "labelFont": "Liberation Sans",
                "labelColor": "#666666",
                "labelOffset": 1.5,
                "columnPadding": 1.2,
                "padding": 0
              }
            }
          }
        }
      ]
    }
  ],
  "resolve": {"scale": {"y": "independent"}},
  "config": {
    "view": {"stroke": null},
    "font": "Liberation Sans"
  }
}
